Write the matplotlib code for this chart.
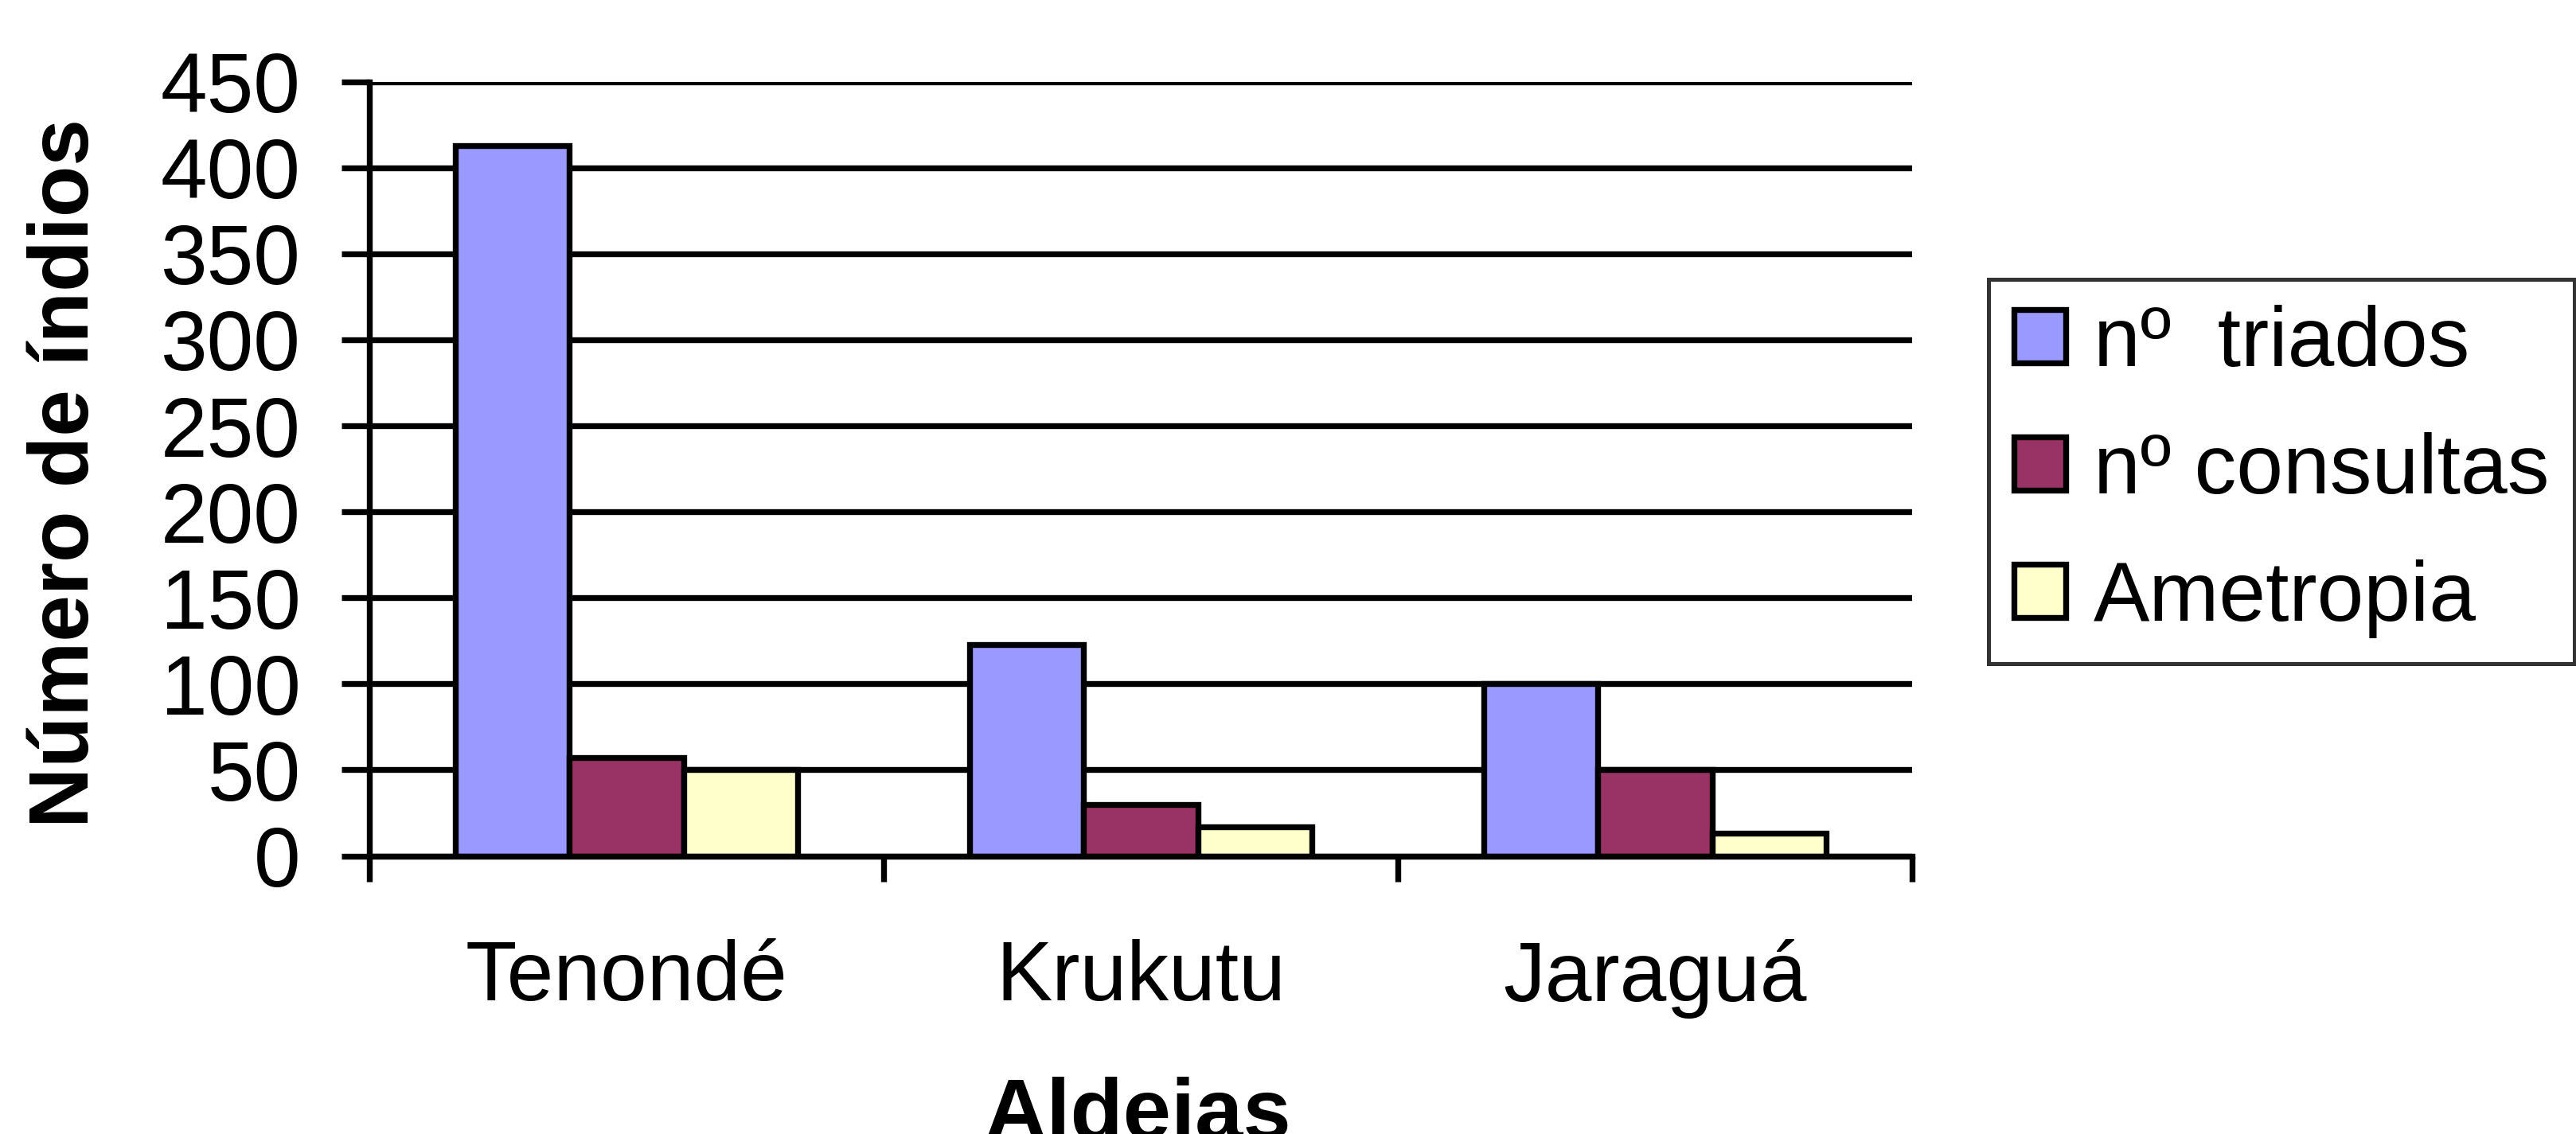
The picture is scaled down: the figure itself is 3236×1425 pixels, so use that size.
import numpy as np
import matplotlib
matplotlib.use("Agg")
import matplotlib.pyplot as plt

plt.rcParams['font.family'] = ['Liberation Sans', 'DejaVu Sans']

# data
aldeias = ["Tenondé", "Krukutu", "Jaraguá"]
triados = [413, 123, 100]
consultas = [57, 30, 50]
ametropia = [50, 17, 13]
series_names = ["nº  triados", "nº consultas", "Ametropia"]
series_colors = ["#9999FF", "#993366", "#FFFFCC"]
yticks = [0, 50, 100, 150, 200, 250, 300, 350, 400, 450]

W, H = 3237, 1425
fig = plt.figure(figsize=(W / 100, H / 100), dpi=100)
# plot area in pixels: x 464..2402, y 102.7..1075.5
ax = fig.add_axes([464 / W, 1 - 1075.5 / H, (2402 - 464) / W, (1075.5 - 102.7) / H])

x = np.arange(len(aldeias))
bw = 1 / 4.5   # excel gap width 150%
lw = 5.3
for i, (vals, name, col) in enumerate(zip([triados, consultas, ametropia], series_names, series_colors)):
    ax.bar(x + (i - 1) * bw, vals, bw, color=col, edgecolor="black", linewidth=lw,
           label=name, zorder=3)

ax.set_xlim(-0.5, 2.5)
ax.set_ylim(0, 450)

# grid and spines
ax.set_yticks(yticks)
ax.yaxis.grid(True, color="black", linewidth=lw, zorder=0)
ax.set_axisbelow(True)
for s in ["top", "right"]:
    ax.spines[s].set_visible(False)
for s in ["left", "bottom"]:
    ax.spines[s].set_linewidth(lw)
    ax.spines[s].set_zorder(4)

ax.tick_params(axis="y", direction="out", length=25, width=lw, pad=37, labelsize=76)

# x: ticks at category boundaries, labels at centers
ax.set_xticks([-0.5, 0.5, 1.5, 2.5])
ax.set_xticklabels([])
ax.set_xticks(x, minor=True)
ax.set_xticklabels(aldeias, minor=True)
ax.tick_params(axis="x", which="major", direction="out", length=23, width=lw)
ax.tick_params(axis="x", which="minor", length=0, pad=75, labelsize=76)

# axis titles
fig.text(84 / W, 1 - 595 / H, "Número de índios", rotation=90, ha="center", va="center",
         fontsize=76, fontweight="bold")
fig.text(1429 / W, 1 - 1431 / H, "Aldeias", ha="center", va="baseline",
         fontsize=78, fontweight="bold")

# legend (runs off the right edge like the original)
leg = fig.legend(loc="upper left", bbox_to_anchor=(2498 / W, 1 - 351 / H), borderaxespad=0,
                 fontsize=76, frameon=True, fancybox=False, edgecolor="black",
                 handlelength=0.62, handleheight=0.6, handletextpad=0.33,
                 borderpad=0.3, labelspacing=0.58)
leg.get_frame().set_linewidth(3.6)

fig.savefig("out.png", dpi=100)
